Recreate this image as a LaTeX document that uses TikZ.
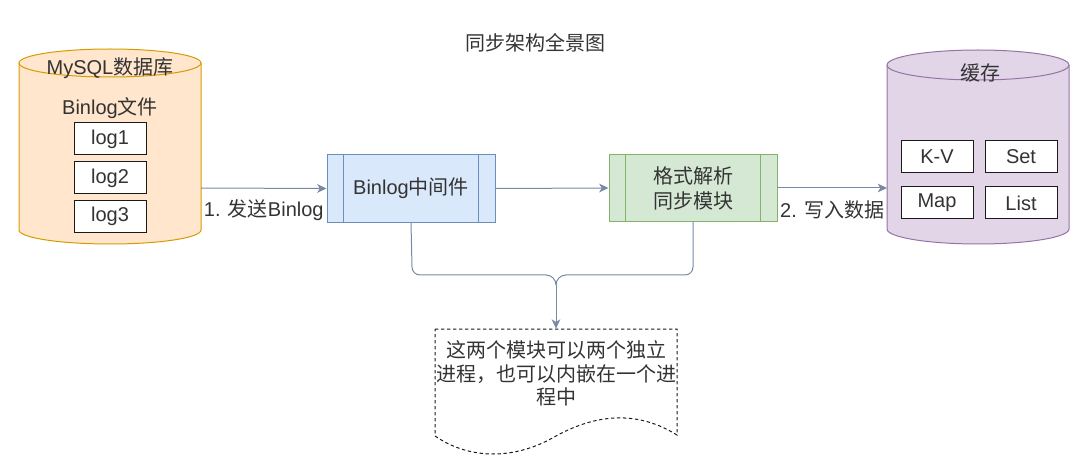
\documentclass[tikz,border=0pt]{standalone}
\usepackage{fontspec}
\setmainfont{Liberation Sans}
\newfontfamily\cjk{Noto Sans CJK SC}
\usetikzlibrary{arrows.meta}
\definecolor{txt}{HTML}{333333}
\definecolor{conncol}{HTML}{788AA3}
\definecolor{orfill}{HTML}{FFE6CC}
\definecolor{orline}{HTML}{D79B00}
\definecolor{blfill}{HTML}{DAE8FC}
\definecolor{blline}{HTML}{6C8EBF}
\definecolor{grfill}{HTML}{D5E8D4}
\definecolor{grline}{HTML}{82B366}
\definecolor{pufill}{HTML}{E1D5E7}
\definecolor{puline}{HTML}{9673A6}
\definecolor{boxline}{HTML}{1A1A1A}
\begin{document}
\begin{tikzpicture}[x=0.75pt,y=0.75pt,line width=0.75pt,
  every node/.style={font=\fontsize{15pt}{17.6pt}\selectfont, text=txt, inner sep=0pt},
  itembox/.style={draw=boxline, fill=white, minimum width=54pt, minimum height=24pt},
  procbox/.style={draw, minimum width=126pt, minimum height=50.5pt, align=center},
  conn/.style={draw=conncol, -{Stealth[length=7pt,width=6.5pt,inset=2pt]}},
  brace/.style={draw=conncol}]
\useasboundingbox (0,0) rectangle (1086,-474);

% title
\node (title) at (535,-43) {\cjk 同步架构全景图};

% MySQL cylinder
\fill[orfill] (19,-63) -- (19,-230) arc[start angle=180,end angle=360,x radius=91,y radius=14] -- (201,-63) arc[start angle=0,end angle=180,x radius=91,y radius=14] -- cycle;
\draw[orline] (19,-63) -- (19,-230) arc[start angle=180,end angle=360,x radius=91,y radius=14] -- (201,-63) arc[start angle=0,end angle=180,x radius=91,y radius=14];
\draw[orline] (19,-63) arc[start angle=180,end angle=360,x radius=91,y radius=14];
\node (mysqltitle) at (110,-68) {MySQL{\cjk 数据库}};
\node (binlogfile) at (110,-108) {Binlog{\cjk 文件}};
\node[itembox] (log1) at (110,-139) {log1};
\node[itembox] (log2) at (110,-178) {log2};
\node[itembox] (log3) at (110,-216.5) {log3};
\coordinate (mysqlE) at (201,-188);

% cache cylinder
\fill[pufill] (887,-65) -- (887,-229) arc[start angle=180,end angle=360,x radius=91,y radius=15] -- (1069,-65) arc[start angle=0,end angle=180,x radius=91,y radius=15] -- cycle;
\draw[puline] (887,-65) -- (887,-229) arc[start angle=180,end angle=360,x radius=91,y radius=15] -- (1069,-65) arc[start angle=0,end angle=180,x radius=91,y radius=15];
\draw[puline] (887,-65) arc[start angle=180,end angle=360,x radius=91,y radius=15];
\node (cachetitle) at (980,-73) {\cjk 缓存};
\node[itembox] (kv) at (937,-157) {K-V};
\node[itembox] (set) at (1021,-157) {Set};
\node[itembox] (map) at (937,-203) {Map};
\node[itembox] (list) at (1021,-203) {List};
\coordinate (cacheW) at (887,-188);

% process boxes
\node[procbox, draw=blline, fill=blfill] (mid) at (411,-188.5) {Binlog{\cjk 中间件}};
\draw[blline] ([xshift=12.75pt]mid.north west) -- ([xshift=12.75pt]mid.south west);
\draw[blline] ([xshift=-12.75pt]mid.north east) -- ([xshift=-12.75pt]mid.south east);

\node[procbox, draw=grline, fill=grfill, font=\fontsize{15pt}{18.75pt}\selectfont] (fmt) at (693,-188) {{\cjk 格式解析}\\{\cjk 同步模块}};
\draw[grline] ([xshift=12.75pt]fmt.north west) -- ([xshift=12.75pt]fmt.south west);
\draw[grline] ([xshift=-12.75pt]fmt.north east) -- ([xshift=-12.75pt]fmt.south east);

% connectors
\draw[conn] (mysqlE) -- node[midway,yshift=-16.5pt] (lab1) {1. {\cjk 发送}Binlog} (mid.west);
\draw[conn] (mid.east) -- (fmt.west);
\draw[conn] (fmt.east) -- node[midway,yshift=-16.5pt] (lab2) {2. {\cjk 写入数据}} (cacheW);

% note
\node[minimum width=181.5pt, minimum height=80pt] (note) at (556,-382.5) {};
\draw[dash pattern=on 2.5pt off 2pt, draw=boxline] (435,-329) -- (677,-329) -- (677,-435)
  .. controls (640,-412) and (600,-412) .. (556,-436)
  .. controls (515,-460) and (470,-460) .. (435,-436) -- cycle;
\node[align=center] (notetext) at (556,-373.5) {{\cjk 这两个模块可以两个独立}\\{\cjk 进程，也可以内嵌在一个进}\\{\cjk 程中}};

% brace
\coordinate (bj) at (556,-285);
\draw[brace] (mid.south) -- (412,-267) to[out=-90,in=180] (420,-275) -- (546,-275) to[out=0,in=90] (bj);
\draw[brace] (fmt.south) -- (693,-267) to[out=-90,in=0] (685,-275) -- (566,-275) to[out=180,in=90] (bj);
\draw[conn] (bj) -- (note.north);
\end{tikzpicture}
\end{document}
